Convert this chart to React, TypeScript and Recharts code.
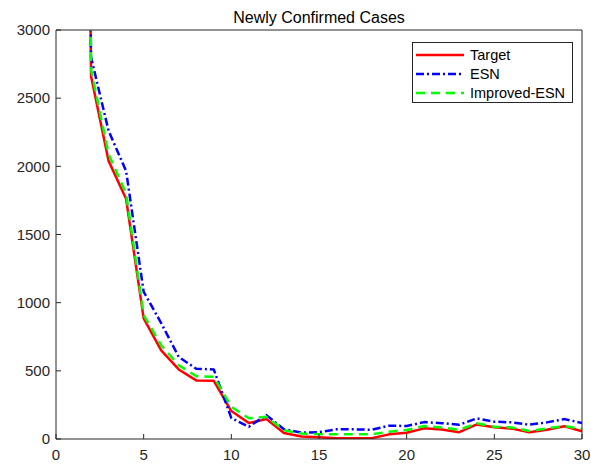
import { LineChart, Line, XAxis, YAxis } from "recharts";

const days = [1, 2, 3, 4, 5, 6, 7, 8, 9, 10, 11, 12, 13, 14, 15, 16, 17, 18, 19, 20, 21, 22, 23, 24, 25, 26, 27, 28, 29, 30];
const target = [15150, 2660, 2040, 1760, 885, 650, 510, 430, 427, 205, 117, 146, 44, 18, 12, 6, 6, 6, 34, 46, 78, 70, 50, 107, 86, 76, 50, 68, 93, 57];
const esn = [14900, 2800, 2260, 1965, 1080, 850, 602, 515, 510, 153, 90, 175, 72, 47, 50, 71, 71, 68, 98, 95, 124, 116, 105, 151, 127, 122, 105, 122, 146, 117];
const improved = [15050, 2710, 2090, 1800, 910, 688, 541, 461, 456, 237, 152, 163, 64, 40, 35, 34, 34, 34, 54, 66, 95, 85, 68, 115, 90, 85, 59, 78, 95, 73];

const xTicks = [0, 5, 10, 15, 20, 25, 30];
const yTicks = [0, 500, 1000, 1500, 2000, 2500, 3000];

const data = days.map((d, i) => ({
  day: d,
  target: target[i],
  esn: esn[i],
  improved: improved[i],
}));

const FONT = "'Liberation Sans', Arial, Helvetica, sans-serif";
const AXIS = "#262626";

const series = [
  { key: "target", name: "Target", color: "#ff0000", dash: undefined as string | undefined },
  { key: "esn", name: "ESN", color: "#0000ff", dash: "8 3 2 3" },
  { key: "improved", name: "Improved-ESN", color: "#00ff00", dash: "9 6" },
];

function LegendBox() {
  return (
    <div
      style={{
        position: "absolute",
        left: 412,
        top: 42,
        width: 159,
        height: 59,
        border: `1px solid ${AXIS}`,
        background: "#fff",
        fontFamily: FONT,
        fontSize: 14.5,
        color: "#000",
      }}
    >
      {series.map((s, i) => (
        <div
          key={s.key}
          style={{ position: "absolute", left: 3, top: 2 + i * 19, height: 19, display: "flex", alignItems: "center" }}
        >
          <svg width={48} height={6} style={{ display: "block" }}>
            <line x1={0} y1={3} x2={48} y2={3} stroke={s.color} strokeWidth={2.5} strokeDasharray={s.dash} />
          </svg>
          <span style={{ marginLeft: 6 }}>{s.name}</span>
        </div>
      ))}
    </div>
  );
}

export default function App() {
  return (
    <div style={{ position: "absolute", left: 0, top: 0, width: 591, height: 465, background: "#fff" }}>
      <div
        style={{
          position: "absolute",
          left: 56,
          width: 526,
          top: 9,
          textAlign: "center",
          fontFamily: FONT,
          fontSize: 16,
          color: "#000",
        }}
      >
        Newly Confirmed Cases
      </div>
      <LineChart width={591} height={465} data={data} margin={{ top: 29, right: 8, bottom: 1, left: 6 }}>
        <XAxis
          dataKey="day"
          type="number"
          domain={[0, 30]}
          ticks={xTicks}
          allowDataOverflow
          stroke={AXIS}
          tickSize={-5}
          tickMargin={15}
          height={25}
          tick={{ fill: AXIS, fontSize: 15, fontFamily: FONT }}
        />
        <XAxis
          xAxisId="top"
          orientation="top"
          type="number"
          domain={[0, 30]}
          ticks={xTicks}
          allowDataOverflow
          stroke={AXIS}
          tickSize={-5}
          height={1}
          tick={false}
        />
        <YAxis
          type="number"
          domain={[0, 3000]}
          ticks={yTicks}
          allowDataOverflow
          stroke={AXIS}
          tickSize={-5}
          tickMargin={11}
          width={50}
          tick={{ fill: AXIS, fontSize: 15, fontFamily: FONT }}
        />
        <YAxis
          yAxisId="right"
          orientation="right"
          type="number"
          domain={[0, 3000]}
          ticks={yTicks}
          allowDataOverflow
          stroke={AXIS}
          tickSize={-5}
          width={1}
          tick={false}
        />
        {series.map((s) => (
          <Line
            key={s.key}
            dataKey={s.key}
            name={s.name}
            stroke={s.color}
            strokeWidth={2.5}
            strokeDasharray={s.dash}
            dot={false}
            activeDot={false}
            isAnimationActive={false}
            strokeLinejoin="round"
          />
        ))}
      </LineChart>
      <LegendBox />
    </div>
  );
}
